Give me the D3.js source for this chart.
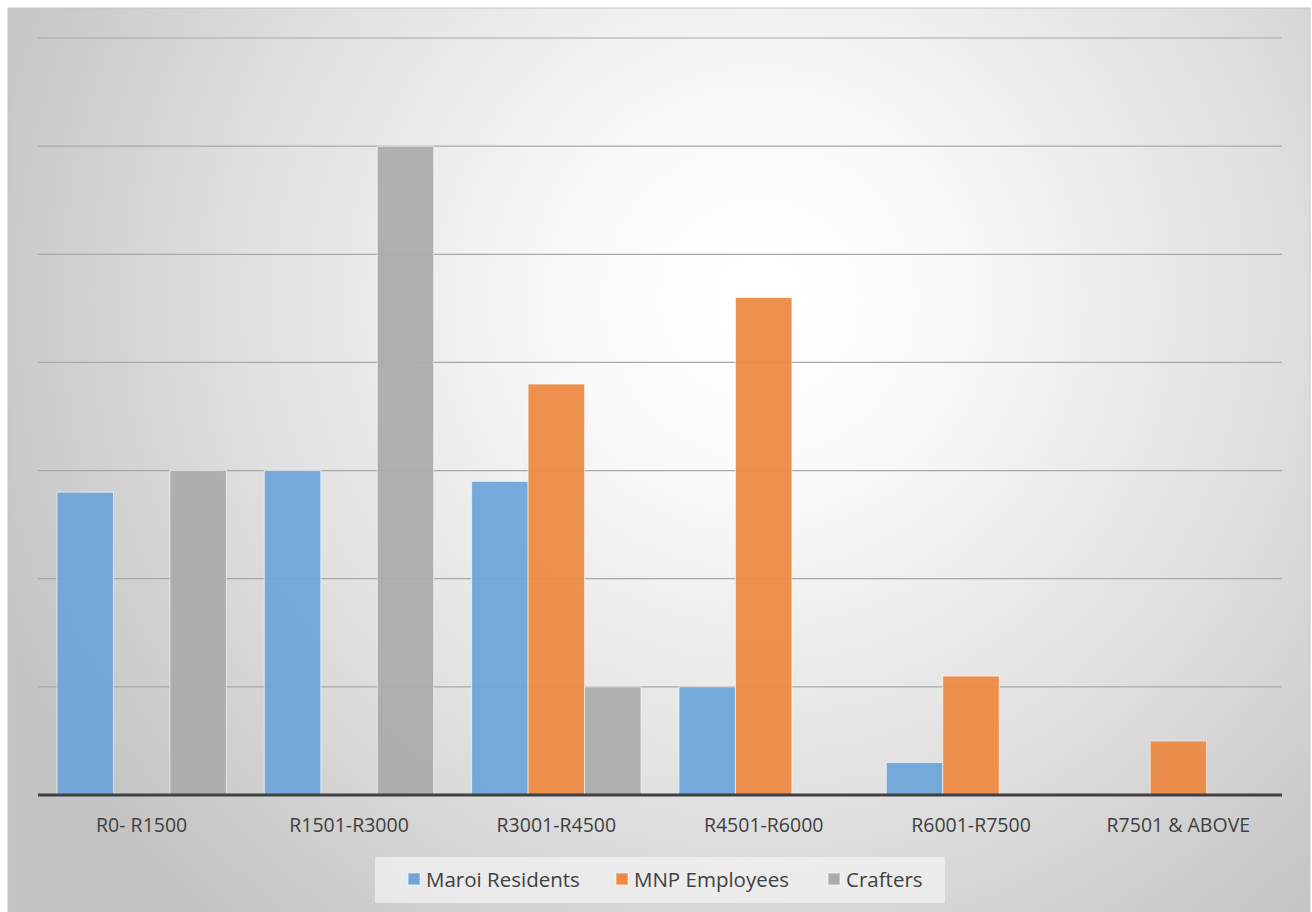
<!DOCTYPE html>
<html><head><meta charset="utf-8">
<script src="https://cdn.jsdelivr.net/npm/d3@7"></script>
<style>body{margin:0;background:#fff}svg{display:block}</style>
</head><body>
<svg id="c" width="1312" height="912"></svg>
<script>
const categories = ["R0- R1500","R1501-R3000","R3001-R4500","R4501-R6000","R6001-R7500","R7501 & ABOVE"];
const seriesNames = ["Maroi Residents","MNP Employees","Crafters"];
const maroiResidents = [2.8, 3.0, 2.9, 1.0, 0.3, 0];
const mnpEmployees   = [0, 0, 3.8, 4.6, 1.1, 0.5];
const crafters       = [3.0, 6.0, 1.0, 0, 0, 0];
const gridTicks = [1,2,3,4,5,6,7];
const colors = ["#6fa5d8","#ed8a45","#acacac"];

(function(){
const svg = d3.select("#c");
const defs = svg.append("defs");
const rg = defs.append("radialGradient").attr("id","bg")
  .attr("gradientUnits","userSpaceOnUse").attr("cx",760).attr("cy",300).attr("r",820);
rg.append("stop").attr("offset","0%").attr("stop-color","#ffffff");
rg.append("stop").attr("offset","20%").attr("stop-color","#fbfbfb");
rg.append("stop").attr("offset","60%").attr("stop-color","#e2e2e2");
rg.append("stop").attr("offset","100%").attr("stop-color","#c4c4c4");

svg.append("rect").attr("x",8).attr("y",8).attr("width",1302).attr("height",910)
  .attr("fill","url(#bg)").attr("stroke","#c6c6c6").attr("stroke-width",1);

const series = [maroiResidents, mnpEmployees, crafters];
const pl = 38, pr = 1282, pt = 38, base = 795;
const x0 = d3.scaleBand().domain(categories).range([pl,pr]).paddingInner(0.183).paddingOuter(0.0915);
const x1 = d3.scaleBand().domain(seriesNames).range([0,x0.bandwidth()]);
const y = d3.scaleLinear().domain([0,7]).range([base,pt]);

svg.append("g").selectAll("line").data(gridTicks).join("line")
  .attr("x1",pl).attr("x2",pr).attr("y1",d=>y(d)).attr("y2",d=>y(d))
  .attr("stroke","#a8a8a8").attr("stroke-width",1.2);

const g = svg.append("g");
categories.forEach((c,ci)=>{
  series.forEach((s,si)=>{
    const v = s[ci];
    if (!v) return;
    g.append("rect")
      .attr("x", x0(c)+x1(seriesNames[si]))
      .attr("y", y(v))
      .attr("width", x1.bandwidth())
      .attr("height", base - y(v))
      .attr("fill", colors[si]).attr("fill-opacity",0.95)
      .attr("stroke","#ffffff").attr("stroke-opacity",0.6).attr("stroke-width",1);
  });
});

svg.append("line").attr("x1",pl).attr("x2",pr).attr("y1",base).attr("y2",base)
  .attr("stroke","#404040").attr("stroke-width",3);

const xAxis = d3.axisBottom(x0).tickSize(0).tickPadding(23);
const ax = svg.append("g").attr("transform",`translate(0,${base})`).call(xAxis);
ax.select(".domain").remove();
ax.selectAll("text").attr("font-family","Open Sans, Liberation Sans, sans-serif")
  .attr("font-size",19.5).attr("fill","#404040");

svg.append("rect").attr("x",375).attr("y",857).attr("width",570).attr("height",46)
  .attr("fill","#f4f4f4").attr("fill-opacity",0.7);
const legX = [408, 616, 828];
seriesNames.forEach((n,i)=>{
  svg.append("rect").attr("x",legX[i]).attr("y",873).attr("width",12).attr("height",12)
    .attr("fill",colors[i]).attr("stroke","#fff").attr("stroke-opacity",0.6);
  svg.append("text").attr("x",legX[i]+18).attr("y",887).text(n)
    .attr("font-family","Open Sans, Liberation Sans, sans-serif").attr("font-size",20.5)
    .attr("fill","#404040");
});
})();
</script>
</body></html>
